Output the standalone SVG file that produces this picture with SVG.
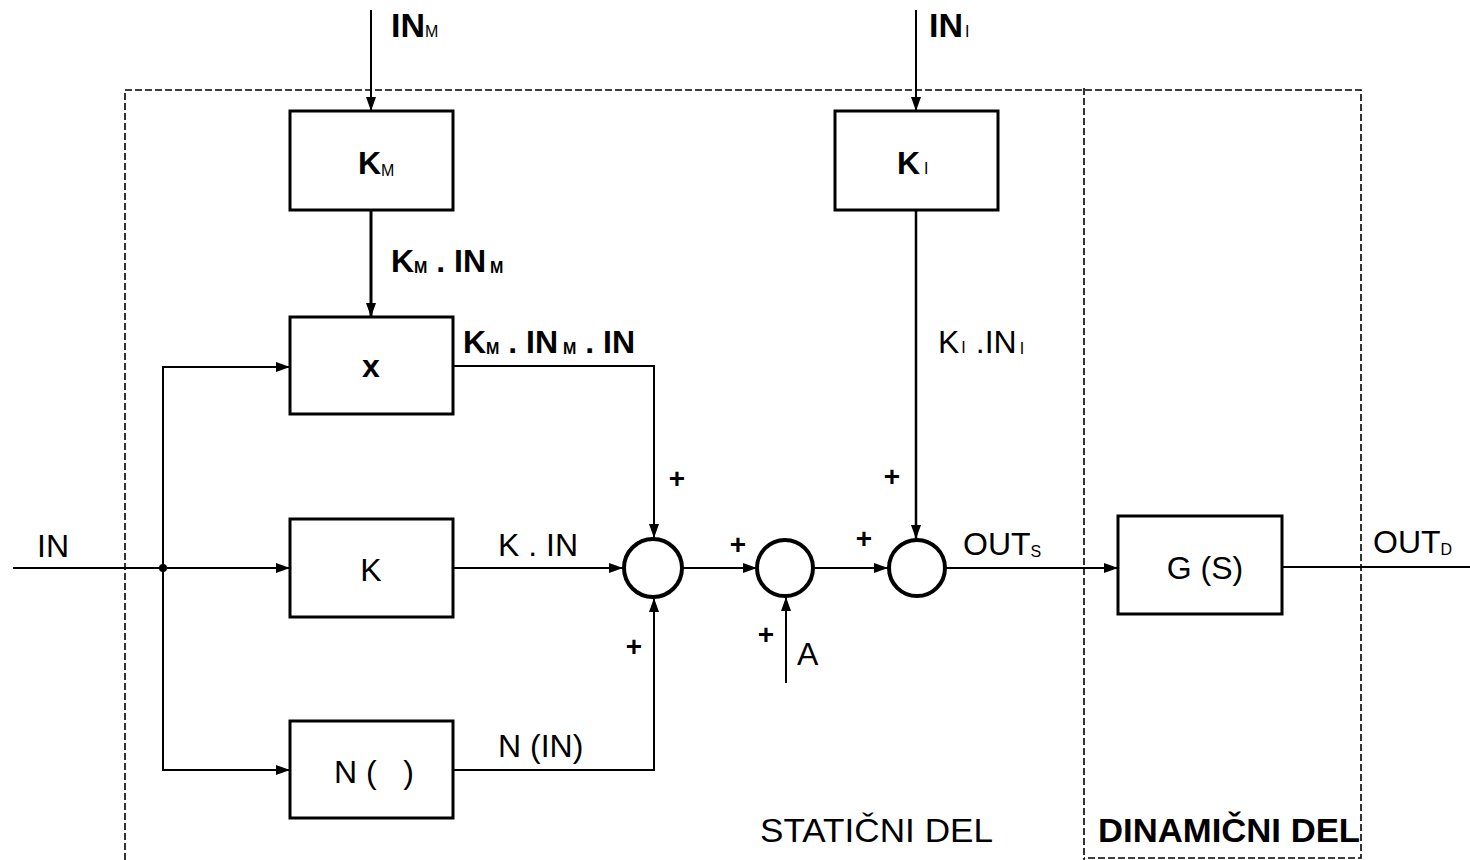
<svg xmlns="http://www.w3.org/2000/svg" width="1470" height="860" viewBox="0 0 1470 860">
<style>
.box{fill:#fff;stroke:#000;stroke-width:3}
.sum{fill:#fff;stroke:#000;stroke-width:4}
.ln{fill:none;stroke:#000;stroke-width:2}
.fr{fill:none;stroke:#000;stroke-width:1.6;stroke-dasharray:7 3}
text{font-family:"Liberation Sans",Arial,sans-serif;fill:#000}
.t{font-size:32px}
.b{font-weight:bold}
.s{font-size:16px}
.pl{font-size:28px;font-weight:bold}
</style>
<defs>
<marker id="ar" viewBox="0 0 14 10" refX="14" refY="5" markerWidth="14" markerHeight="10" markerUnits="userSpaceOnUse" orient="auto">
<path d="M0,0 L14,5 L0,10 Z" fill="#000"/>
</marker>
</defs>
<g id="frame">
<path class="fr" d="M125,860 V90 H1361 V858 H1084 M1084,88 V860"/>
</g>
<g id="connectors">
<path class="ln" d="M13,568 H290" marker-end="url(#ar)"/>
<path class="ln" d="M163,568 V367 H290" marker-end="url(#ar)"/>
<path class="ln" d="M163,568 V770 H290" marker-end="url(#ar)"/>
<circle cx="163" cy="568" r="4" fill="#000"/>
<path class="ln" d="M371,10 V111" marker-end="url(#ar)"/>
<path class="ln" d="M371,210 V317" marker-end="url(#ar)" style="stroke-width:3"/>
<path class="ln" d="M453,366 H654 V538" marker-end="url(#ar)"/>
<path class="ln" d="M453,568 H623" marker-end="url(#ar)"/>
<path class="ln" d="M453,770 H654 V598" marker-end="url(#ar)"/>
<path class="ln" d="M683,568 H757" marker-end="url(#ar)"/>
<path class="ln" d="M786,683 V597" marker-end="url(#ar)"/>
<path class="ln" d="M814,568 H888" marker-end="url(#ar)"/>
<path class="ln" d="M916,10 V111" marker-end="url(#ar)"/>
<path class="ln" d="M916,210 V539" marker-end="url(#ar)" style="stroke-width:2.5"/>
<path class="ln" d="M946,568 H1118" marker-end="url(#ar)"/>
<path class="ln" d="M1282,567 H1470"/>
</g>
<g id="KM"><rect class="box" x="290" y="111" width="163" height="99"/><text x="358" y="174" class="t b">K<tspan class="s" dy="2" font-weight="normal">M</tspan></text></g>
<g id="MUL"><rect class="box" x="290" y="317" width="163" height="97"/><text x="371" y="377" class="t b" text-anchor="middle">x</text></g>
<g id="K"><rect class="box" x="290" y="519" width="163" height="98"/><text x="371" y="581" class="t" text-anchor="middle">K</text></g>
<g id="N"><rect class="box" x="290" y="721" width="163" height="97"/><text x="374" y="783" class="t" text-anchor="middle" xml:space="preserve">N (   )</text></g>
<g id="KI"><rect class="box" x="835" y="111" width="163" height="99"/><text x="897" y="174" class="t b">K<tspan class="s" dx="4" font-weight="normal">I</tspan></text></g>
<g id="G"><rect class="box" x="1118" y="516" width="164" height="98"/><text x="1205" y="579" class="t" text-anchor="middle">G (S)</text></g>
<g id="S1"><circle class="sum" cx="653" cy="568" r="29"/></g>
<g id="S2"><circle class="sum" cx="785" cy="568" r="28"/></g>
<g id="S3"><circle class="sum" cx="917" cy="568" r="28"/></g>
<g id="labels">
<text x="37" y="557" class="t">IN</text>
<text x="391" y="37" class="b" style="font-size:34px">IN<tspan class="s" font-weight="normal">M</tspan></text>
<text x="929" y="37" class="b" style="font-size:34px">IN<tspan class="s" dx="2" font-weight="normal">I</tspan></text>
<text x="391" y="272" class="t b">K<tspan class="s" dy="1">M</tspan><tspan dy="-1"> . IN</tspan><tspan class="s" dx="4" dy="1">M</tspan></text>
<text x="463" y="353" class="t b">K<tspan class="s" dy="1">M</tspan><tspan dy="-1"> . IN</tspan><tspan class="s" dx="5" dy="1">M</tspan><tspan dy="-1"> . IN</tspan></text>
<text x="938" y="353" class="t">K<tspan class="s" dx="2">I</tspan><tspan dx="10">.IN</tspan><tspan class="s" dx="3" dy="1">I</tspan></text>
<text x="498" y="556" class="t">K . IN</text>
<text x="498" y="757" class="t">N (IN)</text>
<text x="963" y="555" class="t">OUT<tspan class="s" dy="2">S</tspan></text>
<text x="1373" y="553" class="t">OUT<tspan class="s" dy="2">D</tspan></text>
<text x="797" y="665" class="t">A</text>
<text x="677" y="488" class="pl" text-anchor="middle">+</text>
<text x="634" y="656" class="pl" text-anchor="middle">+</text>
<text x="738" y="554" class="pl" text-anchor="middle">+</text>
<text x="766" y="644" class="pl" text-anchor="middle">+</text>
<text x="864" y="548" class="pl" text-anchor="middle">+</text>
<text x="892" y="486" class="pl" text-anchor="middle">+</text>
<text x="760" y="842" style="font-size:33px" textLength="233" lengthAdjust="spacingAndGlyphs">STATIČNI DEL</text>
<text x="1098" y="842" class="b" style="font-size:33px" textLength="262" lengthAdjust="spacingAndGlyphs">DINAMIČNI DEL</text>
</g>
</svg>
